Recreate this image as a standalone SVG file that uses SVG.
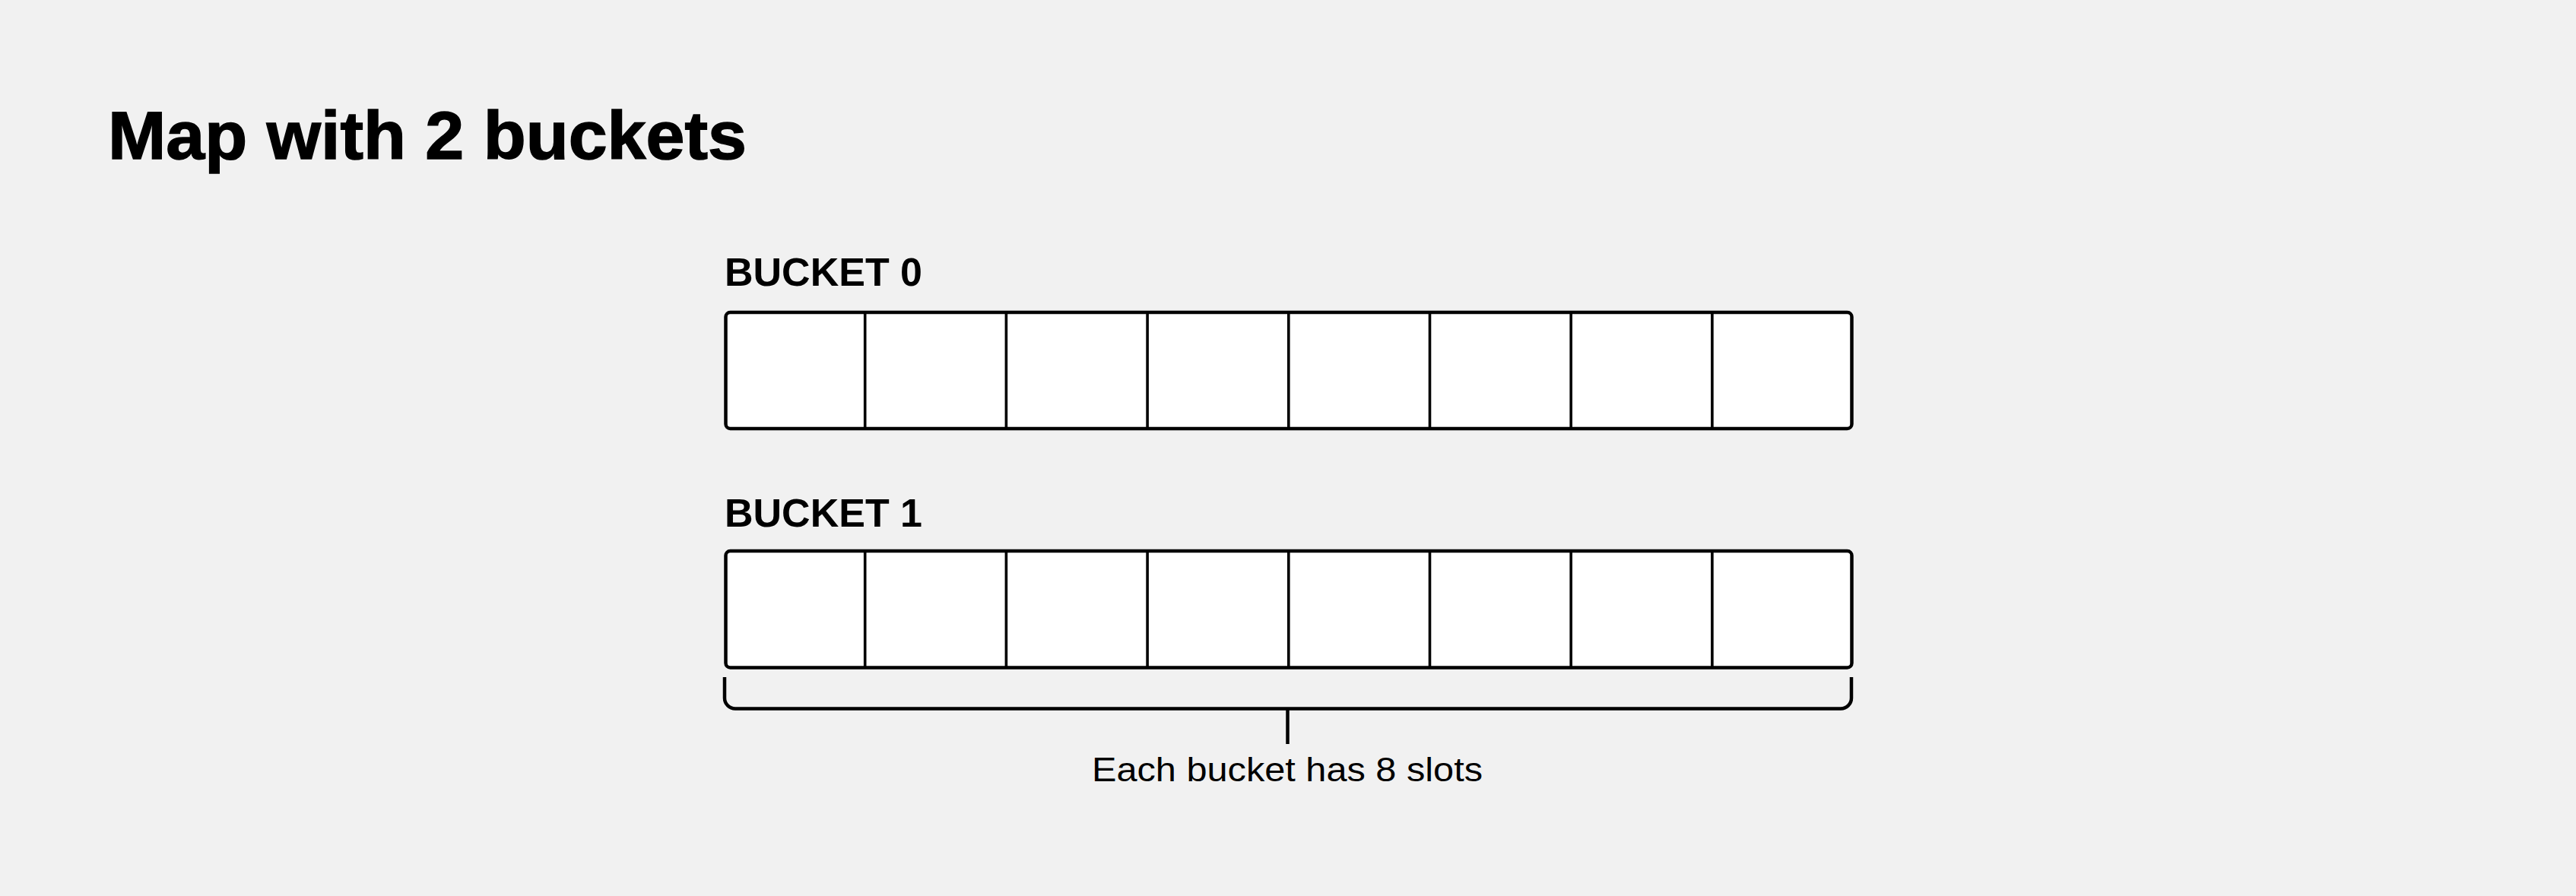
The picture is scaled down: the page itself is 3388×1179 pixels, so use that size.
<svg xmlns="http://www.w3.org/2000/svg" width="3388" height="1179" viewBox="0 0 3388 1179">
<style>
.bg{fill:#f1f1f1}
.title{font-family:"Liberation Sans",Arial,sans-serif;font-weight:700;font-size:89px;fill:#000}
.label{font-family:"Liberation Sans",Arial,sans-serif;font-weight:700;font-size:52px;fill:#000}
.note{font-family:"Liberation Sans",Arial,sans-serif;font-size:44px;fill:#000}
.box{fill:#fff;stroke:#000;stroke-width:4.5}
.div{stroke:#000;stroke-width:3.6;fill:none}
.conn{stroke:#000;stroke-width:4.5;fill:none}
</style>
<rect class="bg" x="0" y="0" width="3388" height="1179"/>
<text id="title" class="title" x="142" y="209" textLength="840" lengthAdjust="spacingAndGlyphs" stroke="#000" stroke-width="1.5">Map with 2 buckets</text>
<g id="bucket0">
<text class="label" x="953" y="376">BUCKET 0</text>
<rect class="box" x="954.5" y="411" width="1481" height="153" rx="6"/>
<path class="div" d="M1137.7 411V564M1323.4 411V564M1509.1 411V564M1694.8 411V564M1880.5 411V564M2066.2 411V564M2251.9 411V564"/>
</g>
<g id="bucket1">
<text class="label" x="953" y="693">BUCKET 1</text>
<rect class="box" x="954.5" y="725" width="1481" height="153.5" rx="6"/>
<path class="div" d="M1137.7 725V878.5M1323.4 725V878.5M1509.1 725V878.5M1694.8 725V878.5M1880.5 725V878.5M2066.2 725V878.5M2251.9 725V878.5"/>
</g>
<g id="connectors">
<path class="conn" d="M953 891V918.5A14 14 0 0 0 967 932.5H2421A14 14 0 0 0 2435 918.5V891"/>
<path class="conn" d="M1693.5 932.5V979"/>
</g>
<g id="note">
<text class="note" x="1436" y="1028" textLength="514" lengthAdjust="spacingAndGlyphs">Each bucket has 8 slots</text>
</g>
</svg>
